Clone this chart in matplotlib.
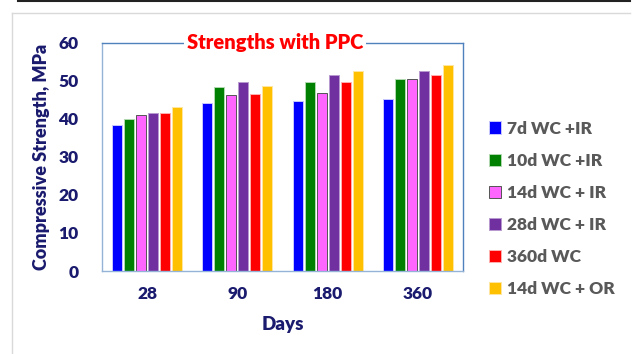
import numpy as np
import matplotlib
matplotlib.use("Agg")
from matplotlib import pyplot as plt
from matplotlib.lines import Line2D

plt.rcParams['font.family'] = ['Lato', 'DejaVu Sans']

# 数据
days = ["28", "90", "180", "360"]
series = ["7d WC +IR", "10d WC +IR", "14d WC + IR", "28d WC + IR", "360d WC", "14d WC + OR"]
wc7_ir = [38.3, 44.1, 44.6, 45.3]
wc10_ir = [40.0, 48.3, 49.8, 50.5]
wc14_ir = [40.9, 46.2, 46.7, 50.5]
wc28_ir = [41.5, 49.6, 51.5, 52.5]
wc360 = [41.5, 46.5, 49.8, 51.5]
wc14_or = [43.0, 48.7, 52.5, 54.1]
values = [wc7_ir, wc10_ir, wc14_ir, wc28_ir, wc360, wc14_or]

colors = ["#0000ff", "#008000", "#ff66ff", "#7030a0", "#ff0000", "#ffc000"]
edges = ["#c8c8ff", "#b0d8b0", "#555555", "#b89ad0", "#ffb0b0", "#ffe6a0"]

fig = plt.figure(figsize=(6.33, 3.54), dpi=100)
ax = fig.add_axes([102 / 633, 1 - 271 / 354, 361 / 633, 228.3 / 354])

x = np.arange(len(days))
step = 0.133
width = 0.112
handles = []
for i, (vals, c, e) in enumerate(zip(values, colors, edges)):
    off = (i - 2.5) * step
    b = ax.bar(x + off, vals, width, color=c, edgecolor=e, linewidth=0.7, label=series[i])
    handles.append(b)

ax.set_xlim(-0.5, 3.5)
ax.set_ylim(0, 60)
ax.set_yticks(range(0, 61, 10))
ax.set_xticks(x)
ax.set_xticklabels(days)
ax.tick_params(length=0, labelsize=12.5, labelcolor="#1a1a6e")
for lbl in ax.get_xticklabels() + ax.get_yticklabels():
    lbl.set_fontweight("heavy")
ax.tick_params(axis="x", pad=11)
ax.tick_params(axis="y", pad=17)

ax.spines["top"].set_color("#4f81bd")
ax.spines["right"].set_color("#4f81bd")
ax.spines["left"].set_color("#95b3d7")
ax.spines["bottom"].set_color("#95b3d7")
for s in ax.spines.values():
    s.set_linewidth(1.0)

ax.set_ylabel("Compressive Strength, MPa", fontsize=13, fontweight="heavy", color="#1a1a6e", labelpad=6)
ax.set_xlabel("Days", fontsize=13.5, fontweight="heavy", color="#1a1a6e", labelpad=10)

ax.text(0.479, 1.0, "Strengths with PPC", transform=ax.transAxes, ha="center", va="center",
        fontsize=14.5, fontweight="heavy", color="#ff0000",
        bbox=dict(facecolor="white", edgecolor="none", pad=2))

leg = fig.legend(handles=handles, labels=series, loc="upper left",
                 bbox_to_anchor=(473 / 633, 1 - 105 / 354), frameon=False,
                 handlelength=0.7, handleheight=0.7, handletextpad=0.35,
                 labelspacing=0.93, fontsize=12.5)
for t in leg.get_texts():
    t.set_color("#595959")
    t.set_fontweight("heavy")

# 外框
fig.add_artist(Line2D([18 / 633, 630 / 633], [1 - 1 / 354, 1 - 1 / 354], color="#222222", lw=1.5))
fig.add_artist(Line2D([12 / 633, 630 / 633], [1 - 12.5 / 354, 1 - 12.5 / 354], color="#d9d9d9", lw=1))
fig.add_artist(Line2D([12 / 633, 12 / 633], [0, 1 - 12.5 / 354], color="#d9d9d9", lw=1))

fig.savefig("out.png", dpi=100)
